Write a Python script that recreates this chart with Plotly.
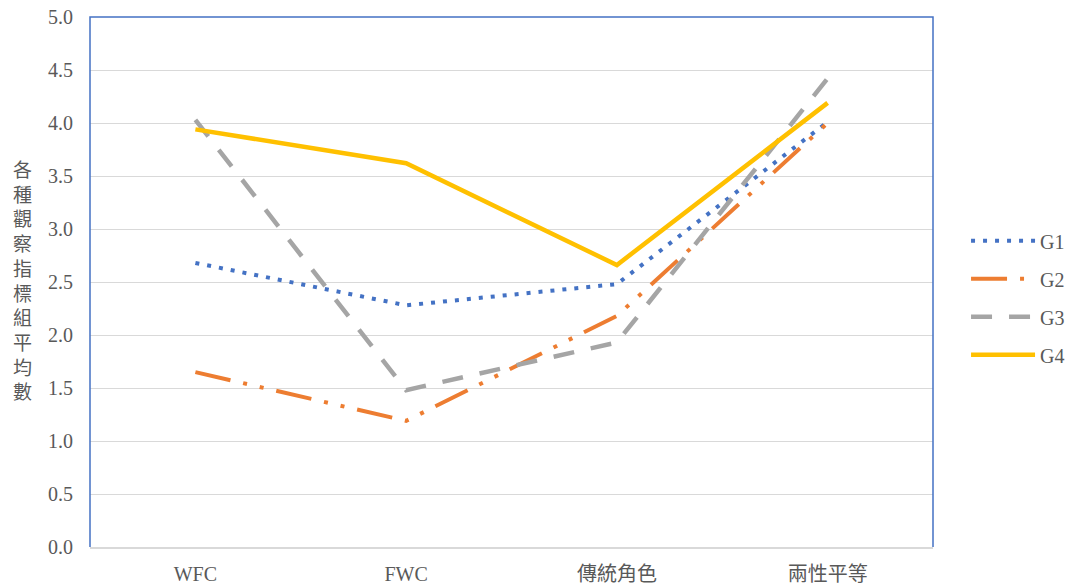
import plotly.graph_objects as go

categories = ["WFC", "FWC", "傳統角色", "兩性平等"]
g1 = [2.68, 2.28, 2.48, 4.01]
g2 = [1.65, 1.19, 2.18, 4.00]
g3 = [4.03, 1.48, 1.93, 4.42]
g4 = [3.94, 3.62, 2.66, 4.19]
series_names = ["G1", "G2", "G3", "G4"]
y_ticks = [0, 0.5, 1, 1.5, 2, 2.5, 3, 3.5, 4, 4.5, 5]
y_title = "各種觀察指標組平均數"

FONT = "Liberation Serif, Times New Roman, Noto Sans CJK TC, serif"
TXT = "#595959"

styles = [
    dict(color="#4472C4", width=4, dash="4px,8px"),
    dict(color="#ED7D31", width=4, dash="36px,13px,4px,13px,4px,13px"),
    dict(color="#A5A5A5", width=4.5, dash="21px,17px"),
    dict(color="#FFC000", width=4.5, dash="solid"),
]

fig = go.Figure()
for name, vals, st in zip(series_names, [g1, g2, g3, g4], styles):
    fig.add_trace(go.Scatter(x=categories, y=vals, name=name, mode="lines",
                             line=st, legendgroup=name))

fig.update_layout(
    width=1071, height=586,
    margin=dict(l=90, r=138, t=17, b=39),
    plot_bgcolor="white", paper_bgcolor="white",
    font=dict(family=FONT, color=TXT, size=20),
    showlegend=True,
    legend=dict(xref="container", yref="container", x=0.902, y=0.492,
                xanchor="left", yanchor="middle",
                font=dict(size=20, color=TXT, family=FONT),
                itemwidth=64, tracegroupgap=9, bgcolor="rgba(0,0,0,0)"),
    xaxis=dict(type="category", range=[-0.5, 3.5], showgrid=False,
               showline=True, linecolor="#D9D9D9", linewidth=1.5,
               ticks="", ticklabelstandoff=8, automargin=False,
               tickfont=dict(size=20, color=TXT), zeroline=False),
    yaxis=dict(range=[0, 5], tickvals=y_ticks, tickformat=".1f",
               showgrid=True, gridcolor="#D9D9D9", gridwidth=1,
               showline=False, zeroline=False, ticks="",
               ticklabelstandoff=16, automargin=False,
               tickfont=dict(size=20, color=TXT)),
    shapes=[dict(type="path", xref="paper", yref="paper",
                 path="M 0,0 L 0,1 L 1,1 L 1,0",
                 line=dict(color="#4472C4", width=1.5))],
    annotations=[dict(text="<br>".join(list(y_title)), xref="paper", yref="paper",
                      x=(22 - 90) / 843, y=0.505, xanchor="center", yanchor="middle",
                      showarrow=False, font=dict(size=19, color=TXT,
                      family="Noto Sans CJK TC, sans-serif"))],
)

fig.write_html("out.html")
